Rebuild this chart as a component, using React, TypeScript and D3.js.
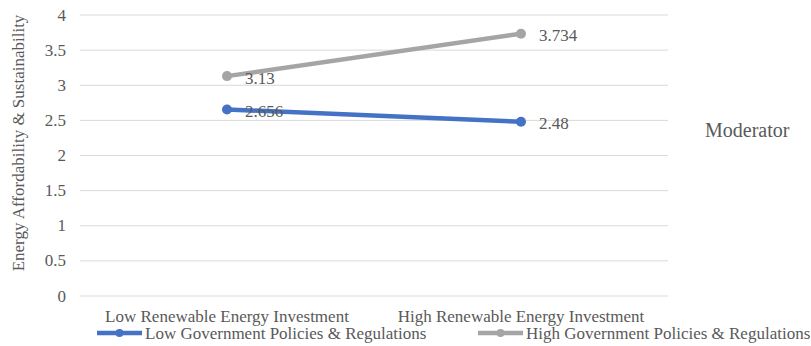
import React from "react";
import * as d3 from "d3";

const categories = ["Low Renewable Energy Investment", "High Renewable Energy Investment"];
const seriesNames = ["Low Government Policies & Regulations", "High Government Policies & Regulations"];
const lowPolicyValues = [2.656, 2.48];
const highPolicyValues = [3.13, 3.734];
const yTicks = [0, 0.5, 1, 1.5, 2, 2.5, 3, 3.5, 4];
const seriesColors = ["#4472C4", "#A5A5A5"];

const W = 811;
const H = 346;
const FONT = "Liberation Serif, Tinos, Times New Roman, DejaVu Serif, serif";
const TEXT = "#595959";

export default function App() {
  const x = d3.scaleBand<string>().domain(categories).range([80, 668]);
  const y = d3.scaleLinear().domain([0, 4]).range([296, 15]);
  const cx = (c: string) => (x(c) ?? 0) + x.bandwidth() / 2;
  const line = d3
    .line<number>()
    .x((_, i) => cx(categories[i]))
    .y((v) => y(v));

  const series = [lowPolicyValues, highPolicyValues];
  const legendX = [97, 478];

  return (
    <div style={{ position: "absolute", left: 0, top: 0 }}>
      <svg width={W} height={H} style={{ display: "block", background: "#fff", fontFamily: FONT }}>
        {yTicks.map((t) => (
          <g key={t}>
            <line x1={80} x2={668} y1={y(t)} y2={y(t)} stroke="#D9D9D9" strokeWidth={1} />
            <text x={66} y={y(t)} textAnchor="end" dominantBaseline="central" fontSize={17} fill={TEXT}>
              {t}
            </text>
          </g>
        ))}
        <text
          transform={`translate(18,${143}) rotate(-90)`}
          textAnchor="middle"
          dominantBaseline="central"
          fontSize={17}
          fill={TEXT}
        >
          Energy Affordability &amp; Sustainability
        </text>
        {categories.map((c) => (
          <text key={c} x={cx(c)} y={322} textAnchor="middle" fontSize={17} fill={TEXT}>
            {c}
          </text>
        ))}
        {series.map((vals, si) => (
          <g key={si}>
            <path d={line(vals) ?? ""} fill="none" stroke={seriesColors[si]} strokeWidth={4.5} strokeLinecap="round" />
            {vals.map((v, i) => (
              <circle key={i} cx={cx(categories[i])} cy={y(v)} r={5} fill={seriesColors[si]} />
            ))}
            {vals.map((v, i) => (
              <text
                key={"l" + i}
                x={cx(categories[i]) + 18}
                y={y(v) + 2}
                dominantBaseline="central"
                fontSize={17}
                fill={TEXT}
              >
                {String(v)}
              </text>
            ))}
          </g>
        ))}
        <text x={705} y={130} dominantBaseline="central" fontSize={20} fill={TEXT}>
          Moderator
        </text>
        {seriesNames.map((n, si) => (
          <g key={n} transform={`translate(${legendX[si]},333)`}>
            <line x1={0} x2={45} y1={0} y2={0} stroke={seriesColors[si]} strokeWidth={4.5} />
            <circle cx={22.5} cy={0} r={4} fill={seriesColors[si]} />
            <text x={48} y={6} fontSize={17} fill={TEXT}>
              {n}
            </text>
          </g>
        ))}
      </svg>
    </div>
  );
}
